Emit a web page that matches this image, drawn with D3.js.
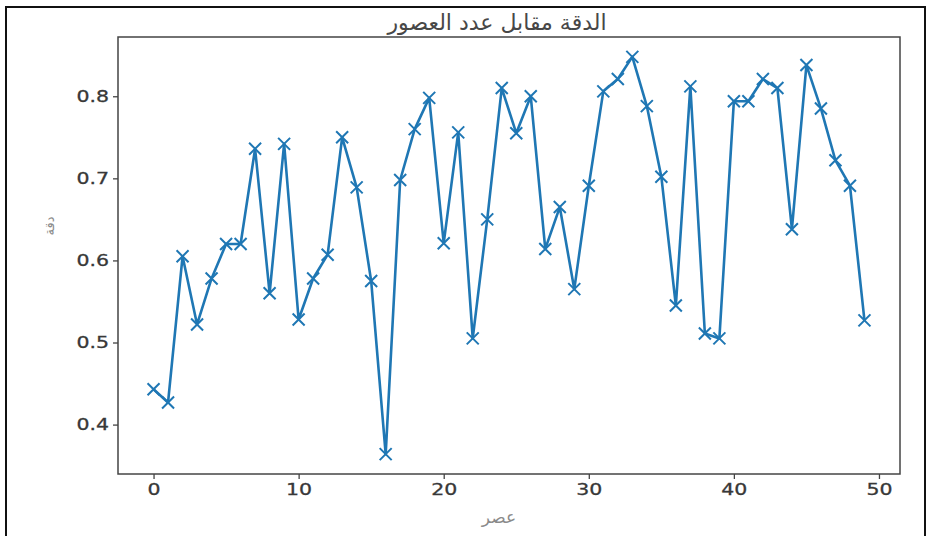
<!DOCTYPE html>
<html>
<head>
<meta charset="utf-8">
<script src="https://cdn.jsdelivr.net/npm/d3@7"></script>
<style>
  html, body { margin: 0; padding: 0; background: #fff; }
  svg { display: block; }
</style>
</head>
<body>
<svg id="chart" width="932" height="536"></svg>
<script>
const titleText = "الدقة مقابل عدد العصور";
const xLabelText = "عصر";
const yLabelText = "دقة";

const epochs = d3.range(0, 50);
const accuracy = [
  0.443, 0.427, 0.605, 0.522, 0.578, 0.620, 0.620, 0.736, 0.560, 0.742,
  0.528, 0.578, 0.607, 0.750, 0.689, 0.575, 0.364, 0.698, 0.760, 0.798,
  0.621, 0.756, 0.505, 0.650, 0.810, 0.755, 0.800, 0.614, 0.665, 0.565,
  0.691, 0.806, 0.821, 0.848, 0.788, 0.702, 0.545, 0.812, 0.511, 0.505,
  0.794, 0.794, 0.821, 0.810, 0.638, 0.838, 0.785, 0.722, 0.691, 0.527
];
const xTicks = [0, 10, 20, 30, 40, 50];
const yTicks = [0.4, 0.5, 0.6, 0.7, 0.8];

const svg = d3.select("#chart");
const plot = { left: 118, top: 37, right: 900, bottom: 474 };
const stretch = 1.28;

// outer frame
svg.append("rect")
  .attr("x", 6).attr("y", 7)
  .attr("width", 919).attr("height", 540)
  .attr("fill", "#fff").attr("stroke", "#111").attr("stroke-width", 2);

const xExt = d3.extent(epochs), yExt = d3.extent(accuracy);
const xPad = (xExt[1] - xExt[0]) * 0.05, yPad = (yExt[1] - yExt[0]) * 0.05;
const x = d3.scaleLinear().domain([xExt[0] - xPad, xExt[1] + xPad]).range([plot.left, plot.right]);
const y = d3.scaleLinear().domain([yExt[0] - yPad, yExt[1] + yPad]).range([plot.bottom, plot.top]);

// axes
const tickFont = "DejaVu Sans, sans-serif";
const xAxis = svg.append("g")
  .attr("transform", `translate(0,${plot.bottom})`)
  .call(d3.axisBottom(x).tickValues(xTicks).tickFormat(d3.format("d")).tickSize(5).tickPadding(6));
const yAxis = svg.append("g")
  .attr("transform", `translate(${plot.left},0)`)
  .call(d3.axisLeft(y).tickValues(yTicks).tickFormat(d3.format(".1f")).tickSize(5).tickPadding(6));
[xAxis, yAxis].forEach(g => {
  g.select(".domain").remove();
  g.selectAll(".tick line").attr("stroke", "#444").attr("stroke-width", 1.3);
  g.selectAll(".tick text").attr("fill", "#383838").attr("font-family", tickFont)
    .attr("font-size", 16).attr("stroke", "#383838").attr("stroke-width", 0.3);
});
xAxis.selectAll(".tick text").attr("y", 10).attr("transform", `scale(${stretch},1)`);
yAxis.selectAll(".tick text").attr("x", -9 / stretch).attr("transform", `scale(${stretch},1)`);

// plot frame
svg.append("rect")
  .attr("x", plot.left).attr("y", plot.top)
  .attr("width", plot.right - plot.left).attr("height", plot.bottom - plot.top)
  .attr("fill", "none").attr("stroke", "#444").attr("stroke-width", 1.5);

// line
const pts = epochs.map((e, i) => [e, accuracy[i]]);
svg.append("path")
  .datum(pts)
  .attr("fill", "none")
  .attr("stroke", "#1f77b4")
  .attr("stroke-width", 2.6)
  .attr("stroke-linejoin", "round")
  .attr("d", d3.line().x(d => x(d[0])).y(d => y(d[1])));

// x markers
const m = 6;
svg.append("g").selectAll("path.mk")
  .data(pts).enter().append("path")
  .attr("class", "mk")
  .attr("d", d => {
    const cx = x(d[0]), cy = y(d[1]);
    return `M${cx - m},${cy - m}L${cx + m},${cy + m}M${cx - m},${cy + m}L${cx + m},${cy - m}`;
  })
  .attr("stroke", "#1f77b4").attr("stroke-width", 2);

// title
svg.append("text")
  .attr("x", 497).attr("y", 30)
  .attr("text-anchor", "middle")
  .attr("font-family", "DejaVu Sans, Noto Sans, sans-serif")
  .attr("font-size", 22).attr("fill", "#474747")
  .attr("direction", "rtl")
  .text(titleText);

// x label
svg.append("text")
  .attr("x", 499).attr("y", 523)
  .attr("text-anchor", "middle")
  .attr("font-family", "DejaVu Sans, Noto Sans, sans-serif")
  .attr("font-size", 17).attr("fill", "#8a8a8a")
  .attr("direction", "rtl")
  .text(xLabelText);

// y label
svg.append("text")
  .attr("transform", `translate(54,226) rotate(-90)`)
  .attr("text-anchor", "middle")
  .attr("font-family", "DejaVu Sans, Noto Sans, sans-serif")
  .attr("font-size", 13).attr("fill", "#8a8a8a")
  .attr("direction", "rtl")
  .text(yLabelText);
</script>
</body>
</html>
